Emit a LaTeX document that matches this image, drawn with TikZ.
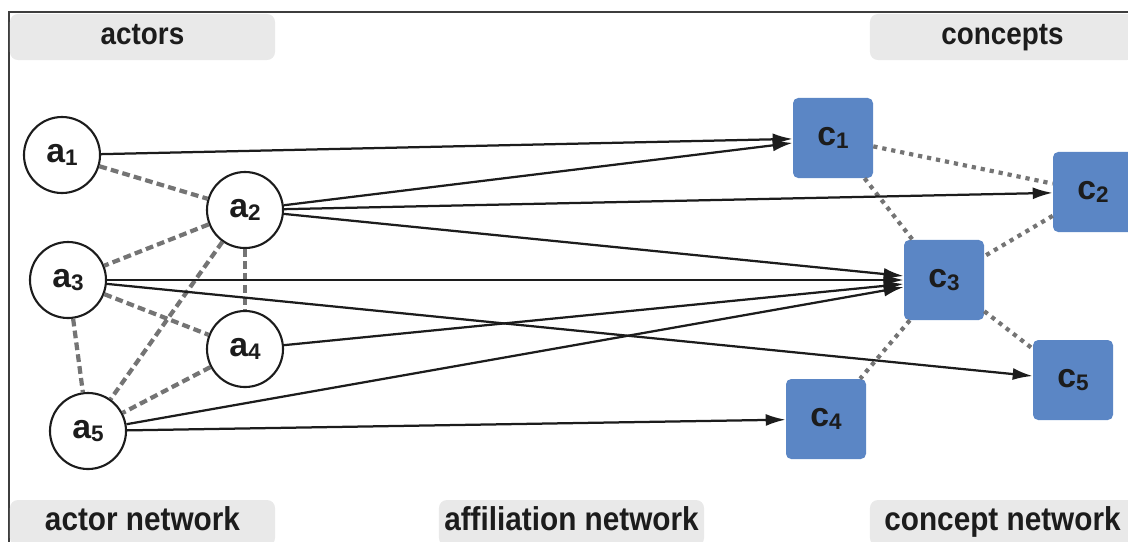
\documentclass[tikz,border=0pt]{standalone}
\usepackage{fontspec}
\setmainfont{Liberation Sans}[FakeStretch=0.9]
\newfontfamily\labelfont{Liberation Sans}
\usepackage{xcolor}
\usetikzlibrary{arrows.meta, positioning, calc}
\definecolor{conceptBlue}{RGB}{91, 134, 197}
\definecolor{tagGray}{RGB}{233, 233, 233}
\definecolor{linkGray}{RGB}{116, 116, 116}
\definecolor{inkBlack}{RGB}{28, 28, 28}
\newcommand{\idx}[2]{#1\raisebox{-2.2pt}{\fontsize{16pt}{18pt}\selectfont #2}}

\begin{document}
\begin{tikzpicture}[
        x=0.025cm, y=-0.025cm,
        actor/.style={circle, draw=inkBlack, fill=white, line width=1.5pt, minimum size=1.9cm, inner sep=0pt, font=\labelfont\fontsize{24pt}{26pt}\selectfont\bfseries, text=inkBlack},
        concept/.style={rectangle, rounded corners=0.13cm, fill=conceptBlue, minimum size=2cm, inner sep=0pt, font=\labelfont\fontsize{24pt}{26pt}\selectfont\bfseries, text=inkBlack},
        tag/.style={rectangle, rounded corners=0.2cm, fill=tagGray, minimum width=6.625cm, minimum height=1.15cm, text height=0.5cm, text depth=0.14cm, font=\fontsize{22pt}{26pt}\selectfont\bfseries, text=inkBlack},
        nettag/.style={tag, font=\fontsize{23.5pt}{26pt}\selectfont\bfseries},
        arrow/.style={-{Latex[length=0.5cm, width=0.3cm]}, line width=1.6pt, inkBlack},
        social/.style={linkGray, line width=3pt, dash pattern=on 5.5pt off 3pt},
        semantic/.style={linkGray, line width=3pt, dash pattern=on 3pt off 3.5pt}
    ]
        \useasboundingbox (0,0) rectangle (1128,541);
        \draw[line width=1.1pt, inkBlack!85] (9,560) -- (9,12) -- (1140,12);

        % group tags
        \node[tag] (tagActors) at (142.5,37) {actors};
        \node[tag] (tagConcepts) at (1002.5,37) {concepts};
        \node[nettag] (tagActorNet) at (142.5,523) {actor network};
        \node[nettag] (tagAffNet) at (571.5,523) {affiliation network};
        \node[nettag] (tagConceptNet) at (1002.5,523) {concept network};

        % actors
        \node[actor] (a1) at (62,155) {\idx{a}{1}};
        \node[actor] (a2) at (245,210) {\idx{a}{2}};
        \node[actor] (a3) at (68,280) {\idx{a}{3}};
        \node[actor] (a4) at (245,349) {\idx{a}{4}};
        \node[actor] (a5) at (88,431) {\idx{a}{5}};

        % concepts
        \node[concept] (c1) at (833,138) {\idx{c}{1}};
        \node[concept] (c2) at (1093,192) {\idx{c}{2}};
        \node[concept] (c3) at (944,280) {\idx{c}{3}};
        \node[concept] (c4) at (826,419) {\idx{c}{4}};
        \node[concept] (c5) at (1073,380) {\idx{c}{5}};

        % actor network
        \draw[social] (a1) -- (a2);
        \draw[social] (a2) -- (a3);
        \draw[social] (a2) -- (a4);
        \draw[social] (a2) -- (a5);
        \draw[social] (a3) -- (a4);
        \draw[social] (a3) -- (a5);
        \draw[social] (a4) -- (a5);

        % concept network
        \draw[semantic] (c1) -- (c2);
        \draw[semantic] (c1) -- (c3);
        \draw[semantic] (c2) -- (c3);
        \draw[semantic] (c3) -- (c4);
        \draw[semantic] (c3) -- (c5);

        % affiliation network
        \draw[arrow] (a1) -- (c1);
        \draw[arrow] (a2) -- (c1);
        \draw[arrow] (a2) -- (c2);
        \draw[arrow] (a2) -- (c3);
        \draw[arrow] (a3) -- (c3);
        \draw[arrow] (a3) -- (c5);
        \draw[arrow] (a4) -- (c3);
        \draw[arrow] (a5) -- (c3);
        \draw[arrow] (a5) -- (c4);
    \end{tikzpicture}
\end{document}
